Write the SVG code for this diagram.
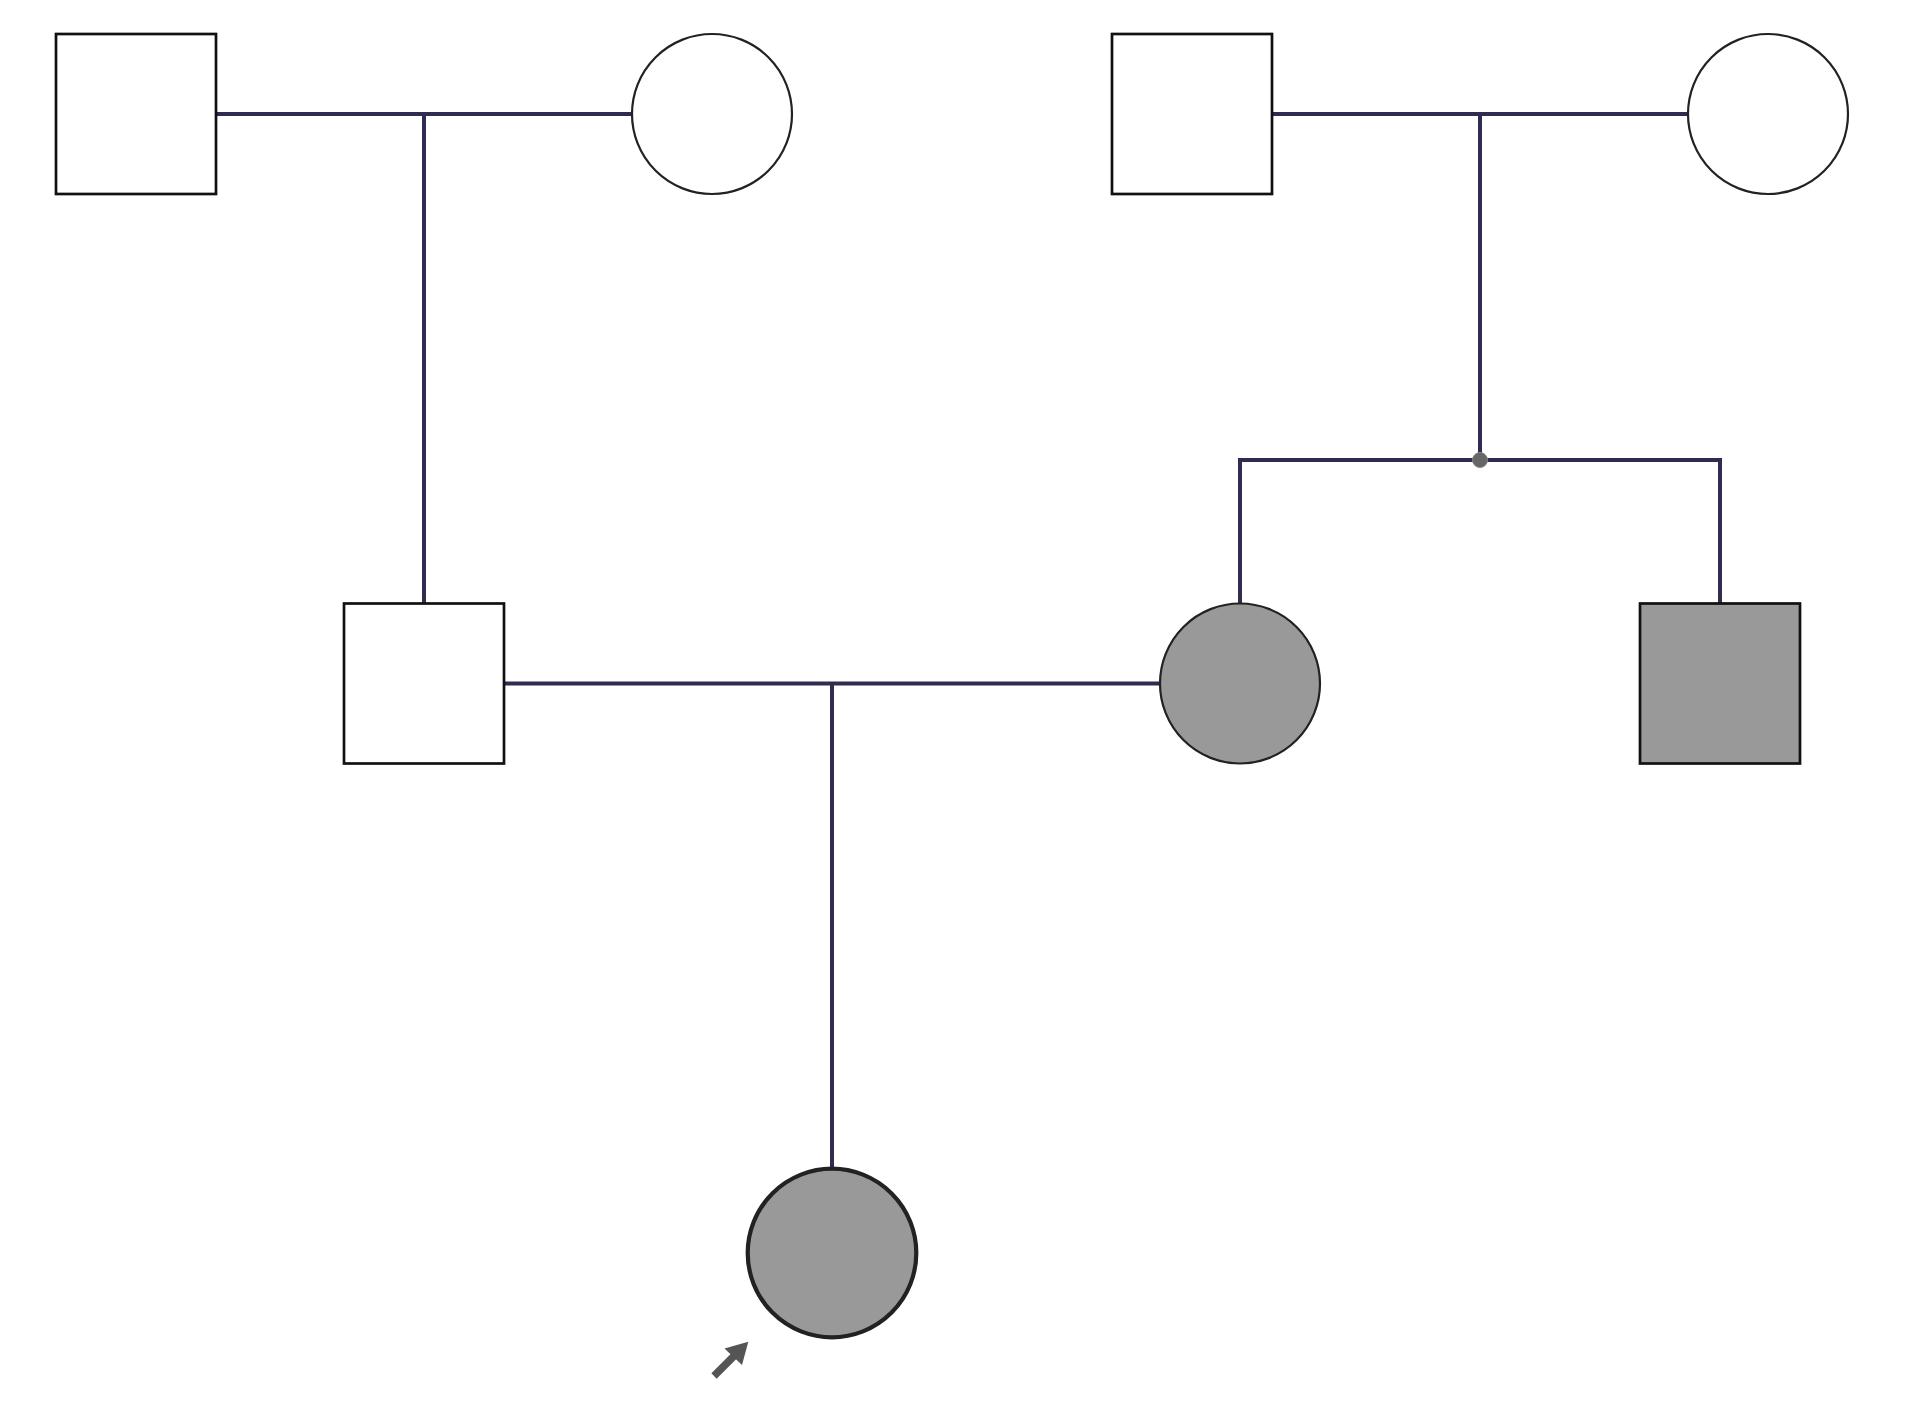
<svg xmlns="http://www.w3.org/2000/svg" width="1910" height="1410" viewBox="0 0 1910 1410">
<style>
.ln{stroke:#2e2d4f;stroke-width:4;fill:none}
.sq{fill:#fff;stroke:#111;stroke-width:2.7}
.ci{fill:#fff;stroke:#222;stroke-width:2.2}
.aff{fill:#999}
</style>
<rect width="1910" height="1410" fill="#fff"/>
<g id="connectors">
<line class="ln" x1="216" y1="114" x2="632" y2="114"/>
<line class="ln" x1="424" y1="114" x2="424" y2="603"/>
<line class="ln" x1="1272" y1="114" x2="1688" y2="114"/>
<line class="ln" x1="1480" y1="114" x2="1480" y2="460"/>
<polyline class="ln" points="1240,603 1240,460 1720,460 1720,603"/>
<line class="ln" x1="504" y1="683.5" x2="1160" y2="683.5"/>
<line class="ln" x1="832" y1="683.5" x2="832" y2="1168"/>
<circle cx="1480" cy="460" r="7.5" fill="#666" stroke="#888" stroke-width="1"/>
</g>
<g id="n1"><rect class="sq" x="56" y="34" width="160" height="160"/></g>
<g id="n2"><circle class="ci" cx="712" cy="114" r="80"/></g>
<g id="n3"><rect class="sq" x="1112" y="34" width="160" height="160"/></g>
<g id="n4"><circle class="ci" cx="1768" cy="114" r="80"/></g>
<g id="n5"><rect class="sq" x="344" y="603.5" width="160" height="160"/></g>
<g id="n6"><circle class="ci aff" cx="1240" cy="683.5" r="80"/></g>
<g id="n7"><rect class="sq aff" x="1640" y="603.5" width="160" height="160"/></g>
<g id="n8">
<circle cx="832" cy="1253" r="84.3" fill="#999" stroke="#222" stroke-width="4.2"/>
<line x1="714" y1="1376" x2="734" y2="1356" stroke="#555" stroke-width="7.5"/>
<polygon points="748.3,1341.7 724.5,1348.5 742,1365" fill="#555"/>
</g>
</svg>
